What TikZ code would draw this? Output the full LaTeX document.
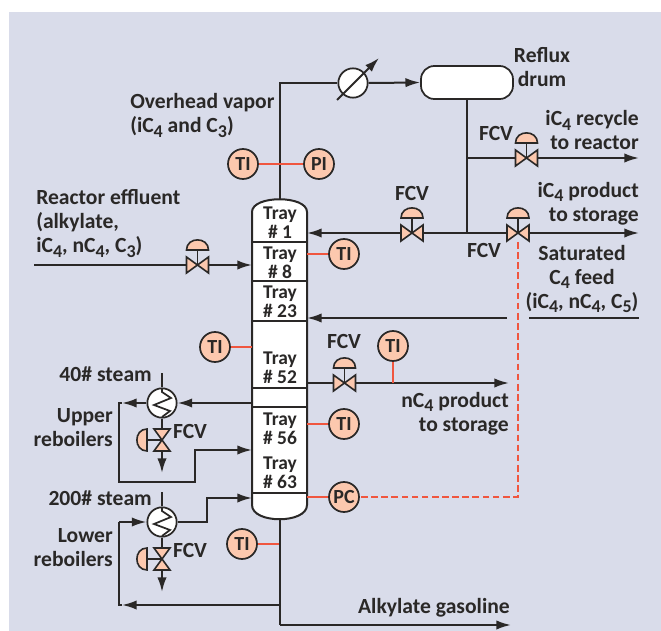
\documentclass[tikz,border=0pt]{standalone}
\usepackage{fontspec}
\setmainfont{Carlito}
\usetikzlibrary{arrows.meta}
\definecolor{bgl}{HTML}{D9DCEA}
\definecolor{peach}{HTML}{FCC8AE}
\definecolor{redl}{HTML}{F0563F}
\definecolor{ink}{HTML}{2A2827}
\newcommand{\ssb}[1]{\raisebox{-0.4ex}{\fontsize{13.5}{13.5}\selectfont #1}}
\tikzset{
  pipe/.style={draw=ink,line width=1.5pt},
  flow/.style={pipe,-{Latex[length=11pt,width=7pt]}},
  sig/.style={draw=redl,line width=1.3pt},
  lbl/.style={text=ink,inner sep=0pt,font=\fontsize{16.2}{18}\selectfont\bfseries},
  tray/.style={text=ink,inner sep=0pt,align=center,font=\fontsize{14.6}{14.25}\selectfont\bfseries},
  inst/.style={circle,draw=ink,line width=1.3pt,fill=peach,minimum size=22.5pt,inner sep=0pt,text=ink,font=\fontsize{15}{15}\selectfont\bfseries},
  hx/.style={circle,draw=ink,line width=1.3pt,fill=white,minimum size=22pt,inner sep=0pt},
  valvepic/.pic={
    \draw[draw=ink,line width=1.2pt,fill=peach,line join=miter] (-11,-8)--(11,8)--(11,-8)--(-11,8)--cycle;
    \draw[draw=ink,line width=1.2pt] (0,0)--(0,-15);
    \draw[draw=ink,line width=1.2pt,fill=peach] (-11,-15) .. controls (-11,-28.5) and (11,-28.5) .. (11,-15) -- cycle;
  },
  zigzag/.pic={
    \draw[draw=ink,line width=1.3pt] (0,-14)--(0,-11)--(9,-5)--(-8,2)--(8,8)--(0,14);
  }
}
\begin{document}
\begin{tikzpicture}[x=0.75pt,y=-0.75pt]
\useasboundingbox (0,0) rectangle (661,631);
\fill[white] (0,0) rectangle (661,631);
\fill[bgl] (9,12) rectangle (661,631);

% key points
\coordinate (cTop) at (280,199);
\coordinate (cBot) at (280,519);
\coordinate (vRefl) at (412,233);
\coordinate (vRec) at (526.5,158);
\coordinate (vProd) at (518,233);
\coordinate (vFeed) at (197.5,265);
\coordinate (vN) at (344.5,383);
\coordinate (vU) at (162,440);
\coordinate (vL) at (162,559);

% equipment nodes
\node[hx] (cond) at (353,83) {};
\node[hx] (hxU) at (162,403) {};
\node[hx] (hxL) at (162,522) {};
\node[draw=ink,line width=1.3pt,fill=white,rounded corners=10pt,minimum width=69pt,minimum height=24.75pt,inner sep=0pt] (drum) at (467,82.5) {};

% connectors: overhead and reflux
\coordinate (ovh) at (cTop |- cond.west);
\draw[pipe] (cTop) -- (ovh) -- (cond.west);
\draw[flow] (cond.east) -- (drum.west);
\coordinate (jA) at (467,233);
\coordinate (jB) at (467,158);
\coordinate (cR1) at (307,233);
\coordinate (eRec) at (639,158);
\coordinate (eProd) at (639,233);
\draw[pipe] (drum.south) -- (jA);
\draw[flow] (jB) -- (eRec);
\draw[flow] (vProd) -- (eProd);
\draw[flow] (vProd) -- (cR1);
% feed
\coordinate (fS) at (34,265);
\coordinate (cL1) at (252,265);
\draw[flow] (fS) -- (cL1);
\coordinate (sA) at (529,318);
\coordinate (sB) at (639,318);
\coordinate (sC) at (507,318);
\coordinate (cR2) at (307,318);
\draw[pipe] (sA) -- (sB);
\draw[flow] (sC) -- (cR2);
\coordinate (cR3) at (307,383);
\coordinate (eN) at (509,383);
\draw[flow] (cR3) -- (eN);
% upper reboiler
\coordinate (cL2) at (252,403);
\coordinate (ulA) at (119,403);
\coordinate (ulT) at (122,403);
\coordinate (ulB) at (119,482);
\coordinate (ulC) at (195,482);
\coordinate (ulD) at (195,450);
\coordinate (cL3) at (252,450);
\draw[flow] (cL2) -- (hxU.east);
\draw[flow] (hxU.west) -- (ulT);
\draw[pipe] (ulT) -- (ulA) -- (ulB) -- (ulC) -- (ulD);
\draw[flow] (ulC) -- (ulD) -- (cL3);
% lower reboiler
\coordinate (bJ) at (280,605);
\coordinate (bE) at (280,625);
\coordinate (eA) at (511,625);
\coordinate (llT) at (122,605);
\coordinate (llA) at (119,605);
\coordinate (llB) at (119,522);
\coordinate (lrA) at (207,522);
\coordinate (lrB) at (207,498);
\coordinate (cL4) at (252,498);
\draw[flow] (bE) -- (eA);
\draw[pipe] (cBot) -- (bE);
\draw[flow] (bJ) -- (llT);
\draw[pipe] (llT) -- (llA) -- (llB);
\draw[flow] (llB) -- (hxL.west);
\draw[flow] (hxL.east) -- (lrA) -- (lrB) -- (cL4);
% steam
\coordinate (sU) at (162,373);
\coordinate (sUe) at (162,473);
\coordinate (sL) at (162,492);
\coordinate (sLe) at (162,592);
\draw[pipe] (sU) -- (hxU.north);
\draw[flow] (hxU.south) -- (sUe);
\draw[pipe] (sL) -- (hxL.north);
\draw[flow] (hxL.south) -- (sLe);

% condenser diagonal arrow
\coordinate (dA) at (337,100);
\coordinate (dB) at (379,58);
\draw[flow] (dA) -- (dB);
\pic at (hxU) {zigzag};
\pic at (hxL) {zigzag};

% column
\draw[draw=ink,line width=1.5pt,fill=white] (252,212) .. controls (252,195) and (307,195) .. (307,212)
  -- (307,505) .. controls (307,524) and (252,524) .. (252,505) -- cycle;
\foreach \yy in {242,281,321,388,407,493} \draw[draw=ink,line width=1.5pt] (252,\yy) -- (307,\yy);

% valves
\pic at (vRefl) {valvepic};
\pic at (vRec) {valvepic};
\pic at (vProd) {valvepic};
\pic at (vFeed) {valvepic};
\pic at (vN) {valvepic};
\pic[rotate=90] at (vU) {valvepic};
\pic[rotate=90] at (vL) {valvepic};

% instruments
\node[inst] (tiA) at (243,164) {TI};
\node[inst] (piA) at (319,164) {PI};
\node[inst] (tiB) at (344,254) {TI};
\node[inst] (tiC) at (215,347) {TI};
\node[inst] (tiD) at (393,346) {TI};
\node[inst] (tiE) at (344,424) {TI};
\node[inst] (pcA) at (344,497) {PC};
\node[inst] (tiF) at (242,544) {TI};
\draw[sig] (tiA) -- (piA);
\coordinate (k1) at (307,254);
\coordinate (k2) at (252,347);
\coordinate (k3) at (393,383);
\coordinate (k4) at (307,424);
\coordinate (k5) at (307,497);
\coordinate (k6) at (279,544);
\draw[sig] (tiB) -- (k1);
\draw[sig] (tiC) -- (k2);
\draw[sig] (tiD) -- (k3);
\draw[sig] (tiE) -- (k4);
\draw[sig] (pcA) -- (k5);
\draw[sig] (tiF) -- (k6);
\coordinate (dC) at (518,497);
\draw[sig,dash pattern=on 5pt off 2.6pt] (vProd) ++(0,9) -- (dC) -- (pcA);

% trays
\node[tray] (t1) at (280,223) {Tray\\\# 1};
\node[tray] (t8) at (280,262.5) {Tray\\\# 8};
\node[tray] (t23) at (280,302) {Tray\\\# 23};
\node[tray] (t52) at (280,368) {Tray\\\# 52};
\node[tray] (t56) at (280,428.5) {Tray\\\# 56};
\node[tray] (t63) at (280,472.5) {Tray\\\# 63};

% labels
\node[lbl,align=center] (l1) at (542,67.5) {Reflux\\drum};
\node[lbl,align=left,anchor=west] (l2) at (130,115.5) {Overhead vapor\\(iC\ssb{4} and C\ssb{3})};
\node[lbl,align=right,anchor=east] (l3) at (639,130.5) {iC\ssb{4} recycle\\to reactor};
\node[lbl,align=right,anchor=east] (l4) at (639,203.5) {iC\ssb{4} product\\to storage};
\node[lbl,align=center] (l5) at (582,279) {Saturated\\C\ssb{4} feed\\(iC\ssb{4}, nC\ssb{4}, C\ssb{5})};
\node[lbl,align=left,anchor=west] (l6) at (36,223.5) {Reactor effluent\\(alkylate,\\iC\ssb{4}, nC\ssb{4}, C\ssb{3})};
\node[lbl] (f1) at (496,133) {FCV};
\node[lbl] (f2) at (412,193) {FCV};
\node[lbl] (f3) at (484,250) {FCV};
\node[lbl] (f4) at (344,341) {FCV};
\node[lbl] (f5) at (190,431) {FCV};
\node[lbl] (f6) at (190,550) {FCV};
\node[lbl,anchor=east] (s1) at (152,374) {40\# steam};
\node[lbl,anchor=east] (s2) at (152,498) {200\# steam};
\node[lbl,align=right,anchor=east] (l7) at (113,428) {Upper\\reboilers};
\node[lbl,align=right,anchor=east] (l8) at (113,547.5) {Lower\\reboilers};
\node[lbl,align=right,anchor=east] (l9) at (509,413.5) {nC\ssb{4} product\\to storage};
\node[lbl,anchor=east] (l10) at (510,608) {Alkylate gasoline};
\end{tikzpicture}
\end{document}
